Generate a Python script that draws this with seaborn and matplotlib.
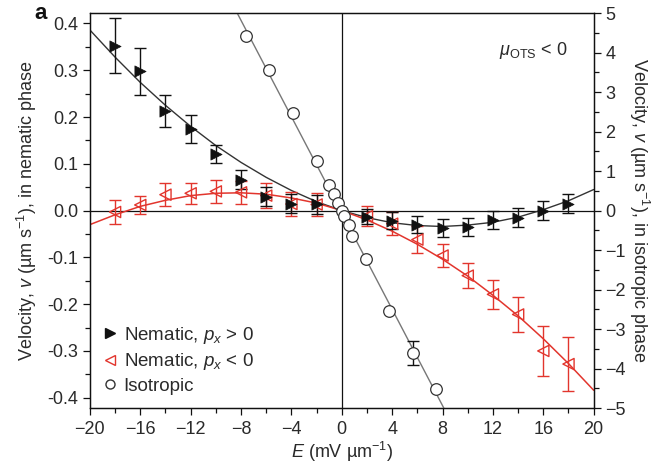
import numpy as np
import pandas as pd
import seaborn as sns
from matplotlib import pyplot as plt
from matplotlib.ticker import MultipleLocator, FormatStrFormatter

# nematic, p_x > 0 (left axis)
pos_E = [-18, -16, -14, -12, -10, -8, -6, -4, -2, 2, 4, 6, 8, 10, 12, 14, 16, 18]
pos_v = [0.352, 0.298, 0.213, 0.175, 0.121, 0.066, 0.030, 0.015, 0.013,
         -0.013, -0.022, -0.030, -0.037, -0.035, -0.020, -0.015, 0.000, 0.015]
pos_err = [0.059, 0.050, 0.035, 0.030, 0.020, 0.020, 0.020, 0.020, 0.020,
           0.016, 0.018, 0.018, 0.019, 0.019, 0.019, 0.020, 0.020, 0.020]

# nematic, p_x < 0 (left axis)
neg_E = [-18, -16, -14, -12, -10, -8, -6, -4, -2, 2, 4, 6, 8, 10, 12, 14, 16, 18]
neg_v = [-0.003, 0.012, 0.034, 0.037, 0.041, 0.039, 0.032, 0.014, 0.013,
         -0.012, -0.028, -0.062, -0.096, -0.139, -0.179, -0.222, -0.300, -0.328]
neg_err = [0.025, 0.020, 0.025, 0.023, 0.025, 0.025, 0.026, 0.025, 0.025,
           0.022, 0.025, 0.028, 0.025, 0.026, 0.031, 0.038, 0.053, 0.058]

# isotropic (right axis)
iso_E = [-7.6, -5.8, -3.9, -1.95, -1.0, -0.65, -0.3, 0.0, 0.2, 0.55, 0.8, 1.9, 3.75, 5.65, 7.5]
iso_v = [4.42, 3.55, 2.46, 1.25, 0.65, 0.41, 0.18, -0.02, -0.14, -0.36, -0.64, -1.22, -2.55, -3.60, -4.53]
iso_err_E = [5.65]
iso_err_v = [-3.60]
iso_err = [0.31]

# fitted curves
fit_E = [-20, -18, -16, -14, -12, -10, -8, -6, -4, -2, 0, 2, 4, 6, 8, 10, 12, 14, 16, 18, 20]
fit_pos = [0.386, 0.328, 0.274, 0.225, 0.180, 0.139, 0.103, 0.071, 0.043, 0.019, 0.0,
           -0.015, -0.026, -0.032, -0.034, -0.031, -0.025, -0.014, 0.002, 0.021, 0.045]
fit_neg = [-0.030, -0.009, 0.009, 0.022, 0.032, 0.037, 0.038, 0.035, 0.027, 0.016, 0.0,
           -0.020, -0.044, -0.072, -0.104, -0.140, -0.181, -0.225, -0.274, -0.327, -0.384]
iso_fit_E = [-8.3, 8.1]
iso_fit_v = [5.0, -5.0]

BLACK = "#111111"
RED = "#e2352d"
GREY = "#777777"
TXT = "#2a2a2a"

sns.set_style("ticks")
plt.rcParams["font.family"] = ["Liberation Sans", "DejaVu Sans"]
plt.rcParams["mathtext.fontset"] = "custom"
plt.rcParams["mathtext.rm"] = "Liberation Sans"
plt.rcParams["mathtext.it"] = "Liberation Sans:italic"
plt.rcParams["mathtext.bf"] = "Liberation Sans:bold"
plt.rcParams["font.size"] = 12.5

fig = plt.figure(figsize=(6.56, 4.69), dpi=100)
ax = fig.add_axes([0.137, 0.130, 0.768, 0.842])
ax2 = ax.twinx()

ax.axhline(0, color=BLACK, lw=0.9, zorder=1)
ax.axvline(0, color=BLACK, lw=0.9, zorder=1)

# fits
sns.lineplot(x=fit_E, y=fit_pos, ax=ax, color="#333333", lw=1.0, sort=False, zorder=2)
sns.lineplot(x=fit_E, y=fit_neg, ax=ax, color=RED, lw=1.1, sort=False, zorder=2)
sns.lineplot(x=iso_fit_E, y=iso_fit_v, ax=ax2, color=GREY, lw=1.0, sort=False, zorder=2)

# error bars
ax.errorbar(neg_E, neg_v, yerr=neg_err, fmt="none", ecolor=RED, elinewidth=1.0,
            capsize=4, capthick=1.0, zorder=3)
ax.errorbar(pos_E, pos_v, yerr=pos_err, fmt="none", ecolor=BLACK, elinewidth=1.0,
            capsize=4, capthick=1.0, zorder=3)
ax2.errorbar(iso_err_E, iso_err_v, yerr=iso_err, fmt="none", ecolor=BLACK, elinewidth=1.0,
             capsize=4, capthick=1.0, zorder=3)

# markers
sns.scatterplot(x=neg_E, y=neg_v, ax=ax, marker="<", s=65, facecolor="none",
                edgecolor=RED, linewidth=1.0, zorder=4)
sns.scatterplot(x=pos_E, y=pos_v, ax=ax, marker=">", s=65, color=BLACK,
                edgecolor=BLACK, linewidth=0.5, zorder=5)
sns.scatterplot(x=iso_E, y=iso_v, ax=ax2, marker="o", s=70, facecolor="white",
                edgecolor="#333333", linewidth=0.9, zorder=4)

ax.set_xlim(-20, 20)
ax.set_ylim(-0.422, 0.422)
ax2.set_ylim(-5, 5)

ax.xaxis.set_major_locator(MultipleLocator(4))
ax.xaxis.set_minor_locator(MultipleLocator(2))
ax.yaxis.set_major_locator(MultipleLocator(0.1))
ax.yaxis.set_minor_locator(MultipleLocator(0.05))
ax.yaxis.set_major_formatter(FormatStrFormatter("%.1f"))
ax2.yaxis.set_major_locator(MultipleLocator(1))
ax2.yaxis.set_minor_locator(MultipleLocator(0.5))

for a in (ax, ax2):
    a.tick_params(which="major", direction="out", length=5, width=0.9, colors=BLACK,
                  labelcolor=TXT, labelsize=13)
    a.tick_params(which="minor", direction="out", length=3.5, width=0.9, colors=BLACK)
    for sp in a.spines.values():
        sp.set_visible(True)
        sp.set_linewidth(0.9)
        sp.set_color(BLACK)
ax.tick_params(axis="x", pad=4)

ax.set_xlabel(r"$E$ (mV µm$^{-1}$)", color=TXT, fontsize=13, labelpad=2)
ax.set_ylabel(r"Velocity, $v$ (µm s$^{-1}$), in nematic phase", color=TXT,
              fontsize=13, labelpad=6)
ax2.set_ylabel(r"Velocity, $v$ (µm s$^{-1}$), in isotropic phase", color=TXT,
               fontsize=13, rotation=-90, labelpad=18)

ax.text(0.88, 0.905, r"$\mathit{\mu}_{\mathrm{OTS}}$ < 0", transform=ax.transAxes,
        ha="center", va="center", fontsize=13, color=TXT)
fig.text(0.062, 0.972, "a", ha="center", va="center", fontsize=16,
         fontweight="bold", color=BLACK)

handles = [
    plt.Line2D([], [], ls="none", marker=">", ms=7, color=BLACK),
    plt.Line2D([], [], ls="none", marker="<", ms=7, mfc="none", mec=RED),
    plt.Line2D([], [], ls="none", marker="o", ms=6.5, mfc="none", mec="#333333"),
]
labels = [r"Nematic, $p_x$ > 0", r"Nematic, $p_x$ < 0", "Isotropic"]
leg = ax.legend(handles, labels, loc="lower left", bbox_to_anchor=(0.0, 0.0),
                frameon=False, fontsize=13.5, handlelength=0.8, handletextpad=0.3,
                labelspacing=0.3, borderaxespad=0.3, labelcolor=TXT)

fig.savefig("out.png", dpi=100)
